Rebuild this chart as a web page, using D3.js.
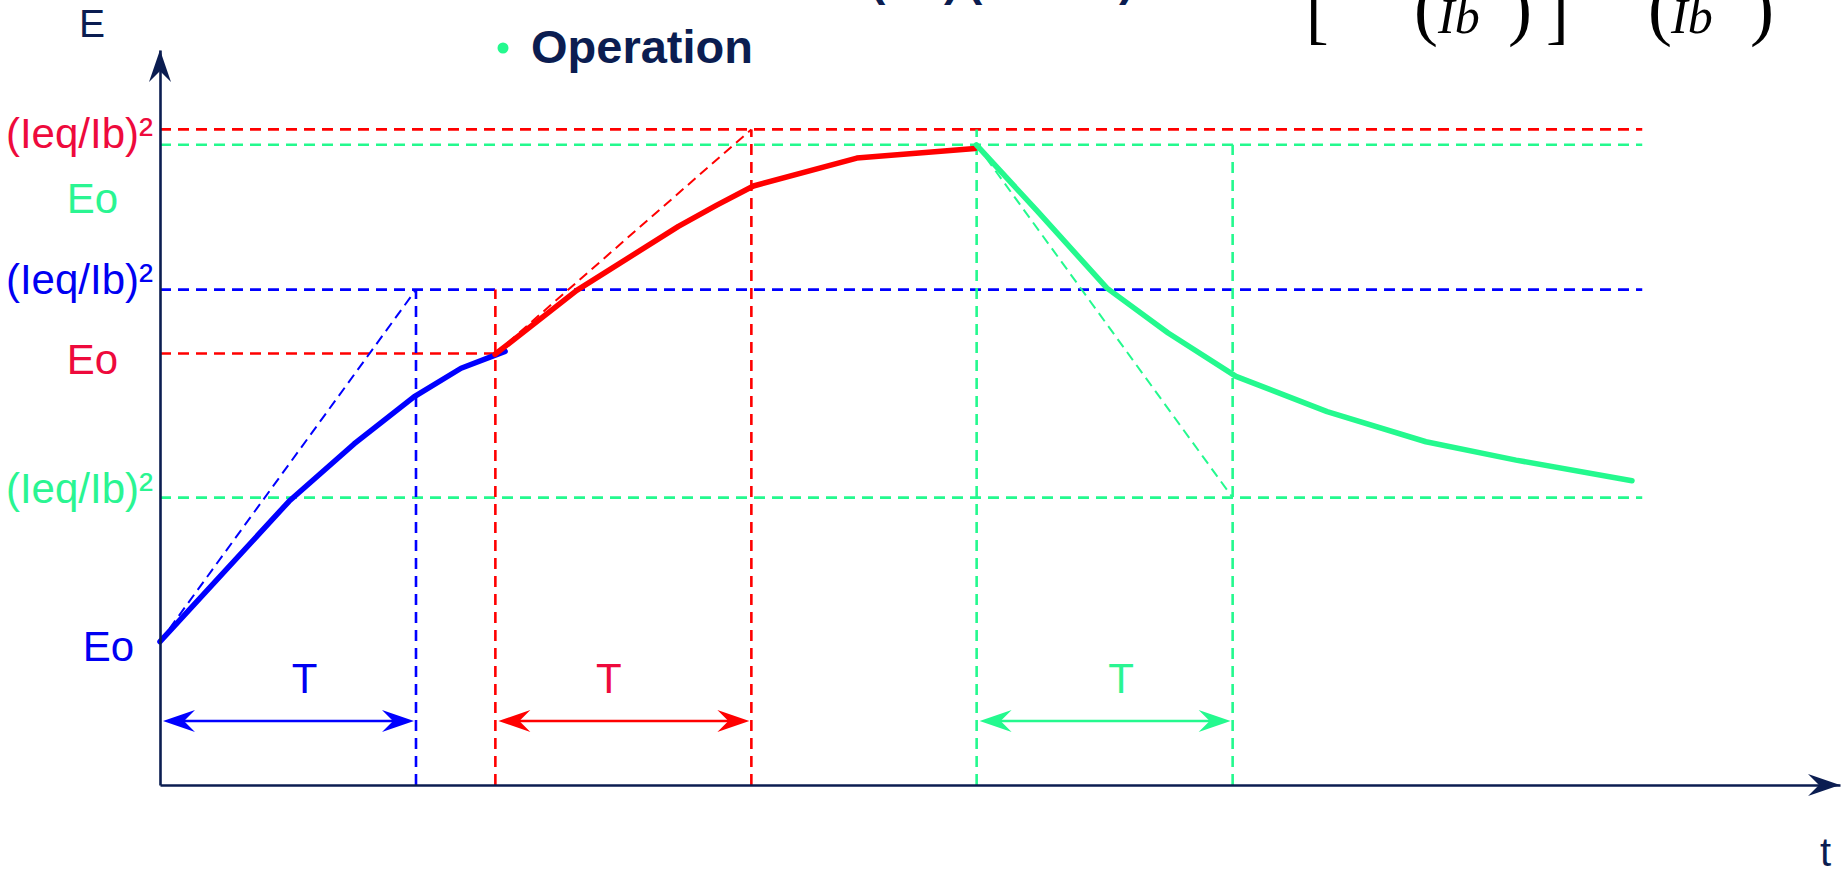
<!DOCTYPE html>
<html>
<head>
<meta charset="utf-8">
<script src="https://cdn.jsdelivr.net/npm/d3@7"></script>
<style>
  html, body { margin: 0; padding: 0; background: #fff; overflow: hidden; }
  svg { display: block; font-family: "Liberation Sans", Arial, sans-serif; }
</style>
</head>
<body>
<div class="chart"></div>
<script>
// time in units of T, energy E in arbitrary units (0 = t axis)
const phaseNames = ['blue', 'red', 'green'];
const phaseStart = [0, 1.31, 3.19];
const T = 1;

// levels
const levelIeq = [67.4, 89.2, 39.1];   // (Ieq/Ib)² for blue, red, green
const levelEo = [19.5, 58.7, 87.1];    // Eo for blue, red, green

// thick curves
const blueT = [0, 0.504, 0.758, 0.992, 1.176, 1.348];
const blueE = [19.5, 38.6, 46.4, 52.8, 56.7, 59.0];
const redT = [1.309, 1.628, 2.025, 2.175, 2.318, 2.722, 3.184];
const redE = [58.6, 67.3, 76.0, 78.9, 81.5, 85.3, 86.6];
const greenT = [3.189, 3.429, 3.699, 3.938, 4.203, 4.559, 4.945, 5.297, 5.75];
const greenE = [87.1, 78.0, 67.6, 61.5, 55.6, 50.8, 46.7, 44.2, 41.4];

const tMax = 6.5625;      // end of t axis
const tGuideEnd = 5.79;   // where the horizontal guides stop
const eArrow = 8.7;       // height of the T dimension arrows

const labelIeq = '(Ieq/Ib)²';
const labelEo = 'Eo';

const colors = {
	blue: '#0000ff', red: '#ff0000', green: '#24f98e',
	blueText: '#0000f2', redText: '#ee0a3c', greenText: '#2af592',
	navy: '#0b1d51'
};

var width = 1841;
var height = 874;
var svg = d3.select('div.chart')
		.append('svg')
		.attr('width', width)
		.attr('height', height);

var xScale = d3.scaleLinear().domain([0, tMax]).range([160, 1840]);
var yScale = d3.scaleLinear().domain([0, 100]).range([785, 50]);

function series(ts, es) {
	return ts.map(function(t, i) { return [t, es[i]]; });
}
var line = d3.line()
		.x(function(d) { return xScale(d[0]); })
		.y(function(d) { return yScale(d[1]); });

// arrow head: tip at (x,y), pointing along angle a
function arrowHead(x, y, a) {
	var L = 32, W = 11, N = 21;
	var c = Math.cos(a), s = Math.sin(a);
	function p(u, v) { return [x - u * c - v * s, y - u * s + v * c]; }
	return 'M' + [p(0, 0), p(L, W), p(N, 0), p(L, -W)].map(function(q) { return q.join(','); }).join('L') + 'Z';
}

var g = svg.append('g');

// horizontal guides
var hGuides = [
	{ e: levelIeq[1], t1: tGuideEnd, c: colors.red },
	{ e: levelEo[2], t1: tGuideEnd, c: colors.green },
	{ e: levelIeq[0], t1: tGuideEnd, c: colors.blue },
	{ e: levelEo[1], t1: phaseStart[1], c: colors.red },
	{ e: levelIeq[2], t1: tGuideEnd, c: colors.green }
];
g.selectAll('.hguide')
	.data(hGuides)
	.enter()
	.append('line')
	.attr('class', 'hguide')
	.attr('x1', xScale(0))
	.attr('x2', function(d) { return xScale(d.t1); })
	.attr('y1', function(d) { return yScale(d.e); })
	.attr('y2', function(d) { return yScale(d.e); })
	.attr('stroke', function(d) { return d.c; })
	.attr('stroke-width', 2.6)
	.attr('stroke-dasharray', '11,7');

// vertical guides
var vGuides = [
	{ t: phaseStart[0] + T, e: levelIeq[0], c: colors.blue },
	{ t: phaseStart[1], e: levelIeq[0], c: colors.red },
	{ t: phaseStart[1] + T, e: levelIeq[1], c: colors.red },
	{ t: phaseStart[2], e: levelIeq[1], c: colors.green },
	{ t: phaseStart[2] + T, e: levelEo[2], c: colors.green }
];
g.selectAll('.vguide')
	.data(vGuides)
	.enter()
	.append('line')
	.attr('class', 'vguide')
	.attr('x1', function(d) { return xScale(d.t); })
	.attr('x2', function(d) { return xScale(d.t); })
	.attr('y1', yScale(0))
	.attr('y2', function(d) { return yScale(d.e); })
	.attr('stroke', function(d) { return d.c; })
	.attr('stroke-width', 2.6)
	.attr('stroke-dasharray', '11,7');

// tangents (initial slope reaches the target level after T)
var tangents = [
	{ a: [phaseStart[0], levelEo[0]], b: [phaseStart[0] + T, levelIeq[0]], c: colors.blue },
	{ a: [phaseStart[1], levelEo[1]], b: [phaseStart[1] + T, levelIeq[1]], c: colors.red },
	{ a: [phaseStart[2], levelEo[2]], b: [phaseStart[2] + T, levelIeq[2]], c: colors.green }
];
g.selectAll('.tangent')
	.data(tangents)
	.enter()
	.append('path')
	.attr('class', 'tangent')
	.attr('d', function(d) { return line([d.a, d.b]); })
	.attr('fill', 'none')
	.attr('stroke', function(d) { return d.c; })
	.attr('stroke-width', 2)
	.attr('stroke-dasharray', '10,6');

// thick curves
var curves = [
	{ pts: series(blueT, blueE), c: colors.blue },
	{ pts: series(redT, redE), c: colors.red },
	{ pts: series(greenT, greenE), c: colors.green }
];
g.selectAll('.curve')
	.data(curves)
	.enter()
	.append('path')
	.attr('class', 'curve')
	.attr('d', function(d) { return line(d.pts); })
	.attr('fill', 'none')
	.attr('stroke', function(d) { return d.c; })
	.attr('stroke-width', 5.5)
	.attr('stroke-linejoin', 'round')
	.attr('stroke-linecap', 'round');

// T dimension arrows
var tDx = [16, -15, 16];
phaseNames.forEach(function(name, i) {
	var x0 = xScale(phaseStart[i]) + 3;
	var x1 = xScale(phaseStart[i] + T) - 2;
	var y = yScale(eArrow);
	g.append('line')
		.attr('x1', x0 + 15).attr('x2', x1 - 15)
		.attr('y1', y).attr('y2', y)
		.attr('stroke', colors[name])
		.attr('stroke-width', 2.5);
	g.append('path').attr('d', arrowHead(x0, y, Math.PI)).attr('fill', colors[name]);
	g.append('path').attr('d', arrowHead(x1, y, 0)).attr('fill', colors[name]);
	g.append('text')
		.attr('x', (x0 + x1) / 2 + tDx[i])
		.attr('y', y - 28)
		.attr('text-anchor', 'middle')
		.attr('font-size', '42px')
		.attr('fill', colors[name + 'Text'])
		.text('T');
});

// axes (no ticks, only the lines)
var xAxis = svg.append('g')
	.attr('transform', 'translate(0,' + yScale(0) + ')')
	.call(d3.axisBottom(xScale).tickValues([]).tickSizeOuter(0));
var yAxis = svg.append('g')
	.attr('transform', 'translate(' + xScale(0) + ',0)')
	.call(d3.axisLeft(yScale).tickValues([]).tickSizeOuter(0));
svg.selectAll('.domain').attr('stroke', colors.navy).attr('stroke-width', 2.6);
svg.append('path').attr('d', arrowHead(xScale(tMax), yScale(0), 0)).attr('fill', colors.navy);
svg.append('path').attr('d', arrowHead(xScale(0), yScale(100), -Math.PI / 2)).attr('fill', colors.navy);

svg.append('text').attr('x', 79).attr('y', 37).attr('font-size', '39px').attr('fill', colors.navy).text('E');
svg.append('text').attr('x', 1820).attr('y', 866).attr('font-size', '40px').attr('fill', colors.navy).text('t');

// level labels on the E axis
var labels = [
	{ text: labelIeq, e: levelIeq[1], c: colors.redText, x: 153, dy: 19 },
	{ text: labelEo, e: levelEo[2], c: colors.greenText, x: 118, dy: 68 },
	{ text: labelIeq, e: levelIeq[0], c: colors.blueText, x: 153, dy: 4 },
	{ text: labelEo, e: levelEo[1], c: colors.redText, x: 118, dy: 20 },
	{ text: labelIeq, e: levelIeq[2], c: colors.greenText, x: 153, dy: 5 },
	{ text: labelEo, e: levelEo[0], c: colors.blueText, x: 134, dy: 19 }
];
svg.selectAll('.lvl')
	.data(labels)
	.enter()
	.append('text')
	.attr('class', 'lvl')
	.attr('x', function(d) { return d.x; })
	.attr('y', function(d) { return yScale(d.e) + d.dy; })
	.attr('text-anchor', 'end')
	.attr('font-size', '42px')
	.attr('fill', function(d) { return d.c; })
	.text(function(d) { return d.text; });

// heading bullet
svg.append('circle').attr('cx', 503).attr('cy', 48).attr('r', 5.5).attr('fill', colors.green);
svg.append('text')
	.attr('x', 531).attr('y', 63)
	.attr('font-size', '47px')
	.attr('font-weight', 'bold')
	.attr('fill', colors.navy)
	.text('Operation');

// formula line above, cut off by the top edge
svg.append('text').attr('x', 870).attr('y', -5).attr('font-size', '46px').attr('font-weight', 'bold')
	.attr('fill', colors.navy).text('(Eo)');
svg.append('text').attr('x', 967).attr('y', -5).attr('font-size', '46px').attr('font-weight', 'bold')
	.attr('fill', colors.navy).text('(1 − Eo)');

// equation denominators, also cut off
var serif = '"Liberation Serif", "Times New Roman", serif';
var eq = [
	{ s: '[', x: 1306, y: 36, size: 68, it: false },
	{ s: '(', x: 1414, y: 32, size: 72, it: false },
	{ s: 'Ib', x: 1438, y: 33, size: 50, it: true },
	{ s: ')', x: 1508, y: 32, size: 72, it: false },
	{ s: ']', x: 1546, y: 36, size: 68, it: false },
	{ s: '(', x: 1648, y: 32, size: 72, it: false },
	{ s: 'Ib', x: 1671, y: 33, size: 50, it: true },
	{ s: ')', x: 1750, y: 32, size: 72, it: false }
];
svg.selectAll('.eq')
	.data(eq)
	.enter()
	.append('text')
	.attr('class', 'eq')
	.attr('x', function(d) { return d.x; })
	.attr('y', function(d) { return d.y; })
	.attr('font-family', serif)
	.attr('font-size', function(d) { return d.size + 'px'; })
	.attr('font-style', function(d) { return d.it ? 'italic' : 'normal'; })
	.attr('fill', '#000')
	.text(function(d) { return d.s; });
</script>
</body>
</html>
